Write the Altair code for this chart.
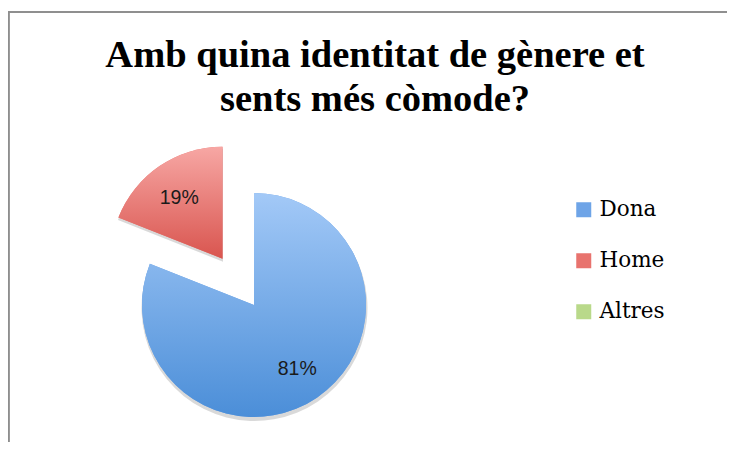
import math
import altair as alt
import pandas as pd

# ---- data ----
title_lines = ["Amb quina identitat de gènere et", "sents més còmode?"]
categories = ["Dona", "Home", "Altres"]
values = [81, 19, 0]
labels = ["81%", "19%", ""]
legend_colors = ["#6ea4e7", "#e8736e", "#b9d98a"]
explode = [0, 1, 0]

# ---- build table ----
total = sum(values)
rows = []
acc = 0.0
for i, (c, v) in enumerate(zip(categories, values)):
    t0 = acc / total * 2 * math.pi
    acc += v
    t1 = acc / total * 2 * math.pi
    rows.append({"cat": c, "value": v, "label": labels[i], "t0": t0, "t1": t1,
                 "mid": (t0 + t1) / 2, "ex": explode[i], "order": i})
df = pd.DataFrame(rows)
title_df = pd.DataFrame({"line": title_lines, "idx": list(range(len(title_lines)))})

CX, CY, R = 246, 177, 112
EXP = 56
LR = 77

base = alt.Chart(df).transform_calculate(
    px=f"{CX} + {EXP}*datum.ex*sin(datum.mid)",
    py=f"{CY} - {EXP}*datum.ex*cos(datum.mid)",
    lx=f"{CX} + {EXP}*datum.ex*sin(datum.mid) + {LR}*sin(datum.mid)",
    ly=f"{CY} - {EXP}*datum.ex*cos(datum.mid) - {LR}*cos(datum.mid) + 3*datum.ex",
    sx=f"{CX} + 0.5 + {EXP}*datum.ex*sin(datum.mid)",
    sy=f"{CY} + 3 - {EXP}*datum.ex*cos(datum.mid)",
)

enc_arc = dict(
    theta=alt.Theta("t0:Q", scale=None),
    theta2=alt.Theta2("t1:Q"),
)

shadow = base.mark_arc(radius=R + 1, color="#000000", opacity=0.15).encode(
    x=alt.X("sx:Q", scale=None),
    y=alt.Y("sy:Q", scale=None),
    **enc_arc,
)

solid = base.mark_arc(radius=R).encode(
    x=alt.X("px:Q", scale=None),
    y=alt.Y("py:Q", scale=None),
    color=alt.Color(
        "cat:N",
        scale=alt.Scale(domain=categories, range=legend_colors),
        sort=categories,
        legend=alt.Legend(
            title=None,
            orient="none",
            legendX=565,
            legendY=71,
            symbolType="square",
            symbolSize=225,
            symbolOpacity=1,
            labelFont="DejaVu Serif",
            labelFontSize=21.5,
            labelColor="#000000",
            labelOffset=5,
            rowPadding=28,
        ),
    ),
    **enc_arc,
)


def grad(c_top, c_bot):
    return alt.LinearGradient(
        gradient="linear",
        stops=[alt.GradientStop(color=c_top, offset=0), alt.GradientStop(color=c_bot, offset=1)],
        x1=0, x2=0, y1=0, y2=1,
    )


dona = base.transform_filter(alt.datum.cat == "Dona").mark_arc(
    radius=R, fill=grad("#a3c9f7", "#4b8ed8")
).encode(
    x=alt.X("px:Q", scale=None),
    y=alt.Y("py:Q", scale=None),
    **enc_arc,
)

home = base.transform_filter(alt.datum.cat == "Home").mark_arc(
    radius=R, fill=grad("#f7a7a4", "#d9554f")
).encode(
    x=alt.X("px:Q", scale=None),
    y=alt.Y("py:Q", scale=None),
    **enc_arc,
)

text = base.transform_filter(alt.datum.value > 0).mark_text(
    font="Liberation Sans", fontSize=19.5, color="#1a1a1a"
).encode(
    x=alt.X("lx:Q", scale=None),
    y=alt.Y("ly:Q", scale=None),
    text="label:N",
)

title = alt.Chart(title_df).transform_calculate(
    ty="-61 + 44*datum.idx"
).mark_text(
    font="Liberation Serif", fontSize=38.5, fontWeight="bold", color="#000000",
    baseline="alphabetic", align="center",
).encode(
    x=alt.value(367),
    y=alt.Y("ty:Q", scale=None),
    text="line:N",
)

top_line = alt.Chart(df).mark_rule(color="#8e8e8e", strokeWidth=1.5).encode(
    x=alt.value(0), x2=alt.value(730), y=alt.value(-116)
)
left_line = alt.Chart(df).mark_rule(color="#8e8e8e", strokeWidth=1.5).encode(
    x=alt.value(0.75), y=alt.value(-116), y2=alt.value(320)
)

chart = alt.layer(top_line, left_line, shadow, solid, dona, home, text, title).properties(
    width=719,
    height=314,
    autosize=alt.AutoSizeParams(type="none"),
    padding={"top": 120, "left": 0, "right": 0, "bottom": 0},
).configure_view(stroke=None)

chart.save("out.html", embed_options={"renderer": "svg", "actions": False})
